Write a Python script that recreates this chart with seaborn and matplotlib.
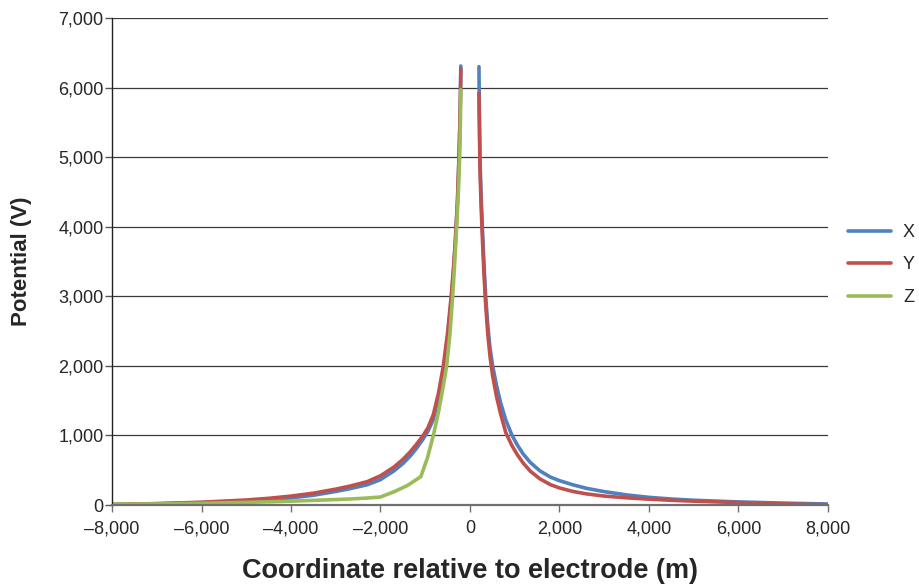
import matplotlib
matplotlib.use("Agg")
import matplotlib.pyplot as plt
import matplotlib.ticker as mticker
import pandas as pd
import seaborn as sns

# Potential profiles along the three axes through the electrode (m, V)
left_r = [-8000, -7000, -6000, -5000, -4500, -4000, -3500, -3000, -2682, -2300,
          -2000, -1700, -1500, -1341, -1200, -1057, -940, -819, -700, -596,
          -500, -417, -370, -328, -280, -246, -230, -215, -205]
x_left_v = [8, 18, 33, 58, 76, 102, 140, 195, 235, 290,
            365, 490, 595, 700, 810, 940, 1060, 1230, 1540, 1930,
            2420, 2960, 3350, 3760, 4350, 4980, 5370, 5830, 6310]
y_left_v = [8, 20, 40, 72, 96, 128, 170, 228, 272, 335,
            420, 545, 655, 760, 870, 990, 1110, 1300, 1620, 2000,
            2480, 3020, 3400, 3800, 4380, 5000, 5380, 5820, 6270]

right_r = [200, 210, 223, 245, 276, 310, 350, 400, 450, 506,
           592, 680, 800, 940, 1060, 1192, 1350, 1564, 1800, 2000,
           2300, 2600, 3000, 3500, 4000, 4500, 5000, 6000, 7000, 8000]
x_right_v = [6300, 5650, 5000, 4500, 4000, 3500, 3000, 2560, 2240, 2000,
             1720, 1480, 1220, 1000, 860, 730, 610, 490, 400, 350,
             290, 240, 192, 145, 110, 86, 68, 44, 27, 14]
y_right_v = [5920, 5400, 4850, 4350, 3850, 3350, 2880, 2440, 2120, 1860,
             1560, 1320, 1040, 850, 720, 600, 485, 375, 292, 245,
             195, 160, 128, 103, 84, 68, 55, 35, 18, 3]

z_left_r = [-8000, -7000, -6000, -5000, -4000, -3000, -2682, -2300, -2000, -1700,
            -1400, -1100, -950, -819, -700, -600, -521, -450, -387, -340,
            -298, -260, -231, -215, -205]
z_left_v = [10, 16, 24, 38, 55, 78, 86, 100, 115, 190,
            280, 407, 680, 1000, 1350, 1700, 2000, 2450, 3000, 3500,
            4000, 4500, 5000, 5500, 5970]

series_names = ["X", "Y", "Z"]
colors = ["#4F81BD", "#C0504D", "#9BBB59"]
x_ticks = list(range(-8000, 8001, 2000))
y_ticks = list(range(0, 7001, 1000))

frames = [
    pd.DataFrame({"coord": left_r, "V": x_left_v, "axis": "X", "side": "L"}),
    pd.DataFrame({"coord": right_r, "V": x_right_v, "axis": "X", "side": "R"}),
    pd.DataFrame({"coord": left_r, "V": y_left_v, "axis": "Y", "side": "L"}),
    pd.DataFrame({"coord": right_r, "V": y_right_v, "axis": "Y", "side": "R"}),
    pd.DataFrame({"coord": z_left_r, "V": z_left_v, "axis": "Z", "side": "L"}),
]
df = pd.concat(frames, ignore_index=True)

sns.set_style("white")
plt.rcParams["font.family"] = ["Liberation Sans", "DejaVu Sans"]

fig = plt.figure(figsize=(9.2, 5.85), dpi=100)
ax = fig.add_axes([112 / 920, 80 / 585, 716 / 920, 487 / 585])

sns.lineplot(data=df, x="coord", y="V", hue="axis", units="side",
             estimator=None, sort=False, palette=dict(zip(series_names, colors)),
             hue_order=series_names, linewidth=2.6, ax=ax, legend=False)
for ln in ax.get_lines():
    ln.set_solid_joinstyle("round")
    ln.set_solid_capstyle("round")

ax.set_xlim(-8000, 8000)
ax.set_ylim(0, 7000)
ax.set_xticks(x_ticks)
ax.set_yticks(y_ticks)

fmt = mticker.FuncFormatter(lambda v, p: f"{v:,.0f}".replace("-", "\u2013"))
ax.xaxis.set_major_formatter(fmt)
ax.yaxis.set_major_formatter(fmt)

ax.yaxis.grid(True, color="#3a3a3a", linewidth=0.9)
ax.xaxis.grid(False)
ax.set_axisbelow(True)

for s in ["top", "right"]:
    ax.spines[s].set_visible(False)
ax.spines["left"].set_color("#222222")
ax.spines["left"].set_linewidth(1.0)
ax.spines["bottom"].set_color("#707070")
ax.spines["bottom"].set_linewidth(1.6)

ax.tick_params(axis="y", direction="out", length=5, width=1.0, color="#555555",
               labelsize=13, pad=1, left=True)
ax.tick_params(axis="x", direction="out", length=5, width=1.0, color="#707070",
               labelsize=13, pad=6, bottom=True)

ax.set_xlabel("Coordinate relative to electrode (m)", fontsize=19.5,
              fontweight="bold", labelpad=15)
ax.set_ylabel("Potential (V)", fontsize=16, fontweight="bold", labelpad=19)

handles = [plt.Line2D([], [], color=c, linewidth=2.6) for c in colors]
fig.legend(handles, series_names, loc="center left",
           bbox_to_anchor=(848 / 920, 1 - 265 / 585), frameon=False,
           borderpad=0, borderaxespad=0, fontsize=13, handlelength=2.4,
           handletextpad=0.65, labelspacing=0.85)

fig.savefig("out.png", dpi=100)
